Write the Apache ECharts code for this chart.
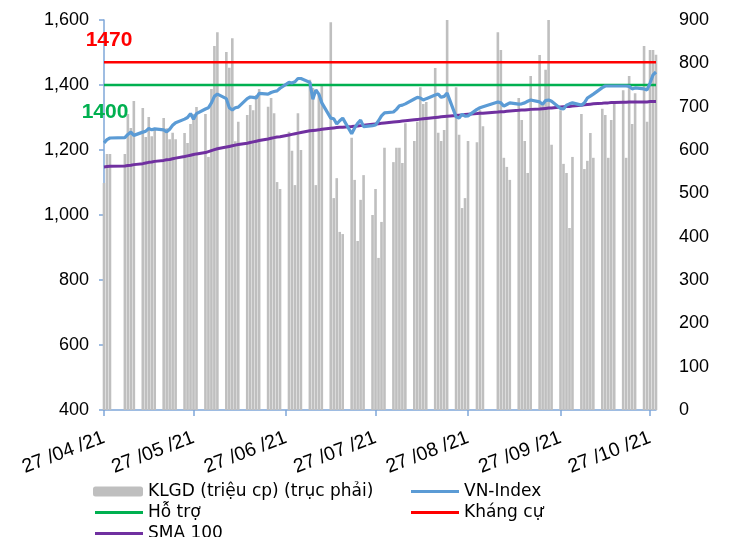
<!DOCTYPE html>
<html>
<head>
<meta charset="UTF-8">
<title>VN-Index</title>
<script src="https://cdn.jsdelivr.net/npm/echarts@6/dist/echarts.min.js"></script>
<style>
  html, body { margin: 0; padding: 0; background: #fff; }
  #chart { width: 735px; height: 537px; }
</style>
</head>
<body>
<div id="chart"></div>
<script>
// ngày giao dịch (dd/mm, năm 2021)
var tradeDays = [
  '27/04','28/04','29/04',
  '04/05','05/05','06/05','07/05','10/05','11/05','12/05','13/05','14/05',
  '17/05','18/05','19/05','20/05','21/05','24/05','25/05','26/05','27/05','28/05','31/05',
  '01/06','02/06','03/06','04/06','07/06','08/06','09/06','10/06','11/06',
  '14/06','15/06','16/06','17/06','18/06','21/06','22/06','23/06','24/06','25/06',
  '28/06','29/06','30/06','01/07','02/07','05/07','06/07','07/07','08/07','09/07',
  '12/07','13/07','14/07','15/07','16/07','19/07','20/07','21/07','22/07','23/07',
  '26/07','27/07','28/07','29/07','30/07','02/08','03/08','04/08','05/08','06/08',
  '09/08','10/08','11/08','12/08','13/08','16/08','17/08','18/08','19/08','20/08',
  '23/08','24/08','25/08','26/08','27/08','30/08','31/08','01/09',
  '06/09','07/09','08/09','09/09','10/09','13/09','14/09','15/09','16/09','17/09',
  '20/09','21/09','22/09','23/09','24/09','27/09','28/09','29/09','30/09','01/10',
  '04/10','05/10','06/10','07/10','08/10','11/10','12/10','13/10','14/10','15/10',
  '18/10','19/10','20/10','21/10','22/10','25/10','26/10','27/10','28/10','29/10'
];
// KLGD (triệu cp)
var volume = [
  524,591,591,
  591,683,651,713,697,630,676,632,646,
  674,650,625,640,625,639,616,660,683,699,683,
  584,741,840,872,826,790,858,620,665,
  681,704,692,727,741,700,720,685,526,510,
  642,598,519,685,600,762,743,519,727,750,
  895,489,535,411,406,628,531,390,485,542,
  450,510,351,434,605,572,605,605,570,662,
  621,665,745,706,711,789,640,621,646,900,
  745,635,466,489,621,618,692,655,
  872,831,582,561,531,720,669,621,547,771,
  819,711,785,900,612,692,568,547,420,584,
  683,556,575,639,582,695,681,582,669,706,
  738,582,771,660,731,840,665,831,831,820
];
var vnIndex = [
  1222,1232,1237,
  1238,1248,1255,1245,1255,1258,1266,1262,1265,
  1262,1256,1264,1276,1284,1295,1300,1312,1295,1312,1326,
  1330,1345,1365,1372,1358,1330,1323,1330,1332,
  1358,1363,1362,1360,1374,1372,1377,1380,1382,1390,
  1408,1406,1410,1420,1420,1408,1356,1385,1372,1345,
  1298,1296,1280,1290,1298,1250,1268,1282,1292,1272,
  1275,1277,1290,1305,1314,1317,1325,1336,1338,1342,
  1357,1362,1360,1354,1358,1369,1372,1362,1365,1375,
  1302,1298,1310,1304,1305,1325,1330,1333,
  1348,1345,1335,1340,1345,1341,1342,1345,1350,1354,
  1348,1341,1352,1354,1350,1328,1326,1338,1342,1345,
  1338,1345,1360,1366,1372,1392,1397,1397,1397,1397,
  1397,1397,1396,1388,1391,1388,1385,1406,1431,1440
];
var sma100 = [
  1148,1149,1150,
  1151,1152,1153,1155,1158,1160,1162,1163,1165,
  1168,1170,1171,1173,1175,1180,1182,1184,1186,1188,1192,
  1195,1198,1201,1204,1209,1211,1213,1215,1217,
  1221,1223,1225,1227,1229,1234,1236,1238,1240,1241,
  1246,1248,1250,1252,1254,1259,1260,1261,1262,1264,
  1267,1268,1269,1270,1270,1272,1273,1274,1275,1276,
  1279,1280,1281,1282,1283,1286,1287,1288,1289,1290,
  1293,1294,1295,1296,1297,1300,1301,1302,1303,1304,
  1306,1307,1308,1309,1310,1312,1313,1313,
  1317,1318,1318,1319,1320,1322,1323,1323,1324,1325,
  1326,1327,1328,1329,1329,1332,1333,1334,1334,1335,
  1338,1339,1340,1341,1342,1344,1345,1345,1346,1346,
  1347,1347,1348,1348,1348,1348,1348,1349,1349,1349
];
var supportLevel = 1400;     // Hỗ trợ
var resistanceLevel = 1470;  // Kháng cự
var tickDays = ['27/04','27/05','27/06','27/07','27/08','27/09','27/10'];

function toTime(s) {
  var p = s.split('/');
  return new Date(2021, parseInt(p[1], 10) - 1, parseInt(p[0], 10)).getTime();
}

var times = tradeDays.map(toTime);
var tickTimes = tickDays.map(toTime);
var firstT = times[0], lastT = times[times.length - 1];

function pair(arr) {
  var out = [];
  for (var i = 0; i < times.length; i++) out.push([times[i], arr[i]]);
  return out;
}

var FONT = '"Liberation Sans", Arial, sans-serif';
var LEG_FONT = '"DejaVu Sans", sans-serif';
var axisBlue = '#7FA7D9';

var chart = echarts.init(document.getElementById('chart'));
var legendText = { fontFamily: LEG_FONT, fontSize: 17, color: '#000' };

function lineLegend(name, left, top) {
  return {
    data: [{ name: name, icon: 'rect' }],
    left: left, top: top, itemWidth: 48, itemHeight: 3,
    textStyle: legendText
  };
}

chart.setOption({
  animation: false,
  grid: { left: 104, right: 79, top: 20, bottom: 127 },
  legend: [
    { data: ['KLGD (triệu cp) (trục phải)'], left: 88, top: 478, itemWidth: 50, itemHeight: 10, textStyle: legendText },
    lineLegend('Hỗ trợ', 90, 499),
    lineLegend('SMA 100', 90, 520),
    lineLegend('VN-Index', 406, 478),
    lineLegend('Kháng cự', 406, 499)
  ],
  xAxis: {
    type: 'value',
    min: firstT,
    max: lastT,
    axisLine: { lineStyle: { color: axisBlue, width: 1.5 } },
    axisTick: { show: true, customValues: tickTimes, length: 6, lineStyle: { color: axisBlue, width: 1.5 } },
    axisLabel: {
      customValues: tickTimes,
      rotate: 21,
      margin: 27,
      hideOverlap: false,
      fontFamily: FONT,
      fontSize: 19.5,
      color: '#000',
      formatter: function (v) {
        var d = new Date(v);
        var dd = ('0' + d.getDate()).slice(-2);
        var mm = ('0' + (d.getMonth() + 1)).slice(-2);
        return dd + ' /' + mm + ' /21';
      }
    },
    splitLine: { show: false }
  },
  yAxis: [
    {
      type: 'value', min: 400, max: 1600, interval: 200,
      axisLine: { show: true, lineStyle: { color: axisBlue, width: 1.5 } },
      axisTick: { show: true, length: 5, lineStyle: { color: axisBlue, width: 1.5 } },
      axisLabel: {
        margin: 15, fontFamily: FONT, fontSize: 18, color: '#000',
        formatter: function (v) { return v.toLocaleString('en-US'); }
      },
      splitLine: { show: false }
    },
    {
      type: 'value', min: 0, max: 900, interval: 100,
      axisLine: { show: false },
      axisTick: { show: false },
      axisLabel: { margin: 23, fontFamily: FONT, fontSize: 18, color: '#000' },
      splitLine: { show: false }
    }
  ],
  series: [
    {
      name: 'KLGD (triệu cp) (trục phải)',
      type: 'bar',
      yAxisIndex: 1,
      barWidth: 2.6,
      itemStyle: { color: '#BFBFBF' },
      data: pair(volume)
    },
    {
      name: 'VN-Index',
      type: 'line',
      symbol: 'none',
      lineStyle: { color: '#5B9BD5', width: 3.2 },
      itemStyle: { color: '#5B9BD5' },
      data: pair(vnIndex),
      z: 4
    },
    {
      name: 'Hỗ trợ',
      type: 'line',
      symbol: 'none',
      lineStyle: { color: '#00B050', width: 2.5 },
      itemStyle: { color: '#00B050' },
      data: [[firstT, supportLevel], [lastT, supportLevel]],
      markPoint: {
        symbol: 'circle', symbolSize: 0,
        data: [{ coord: [firstT, supportLevel] }],
        label: {
          show: true, position: 'bottom', distance: 17, offset: [1, 0],
          formatter: String(supportLevel),
          fontFamily: FONT, fontSize: 21, fontWeight: 'bold', color: '#00B050'
        }
      },
      z: 3
    },
    {
      name: 'Kháng cự',
      type: 'line',
      symbol: 'none',
      lineStyle: { color: '#FF0000', width: 2.5 },
      itemStyle: { color: '#FF0000' },
      data: [[firstT, resistanceLevel], [lastT, resistanceLevel]],
      markPoint: {
        symbol: 'circle', symbolSize: 0,
        data: [{ coord: [firstT, resistanceLevel] }],
        label: {
          show: true, position: 'top', distance: 12, offset: [5, 0],
          formatter: String(resistanceLevel),
          fontFamily: FONT, fontSize: 21, fontWeight: 'bold', color: '#FF0000'
        }
      },
      z: 3
    },
    {
      name: 'SMA 100',
      type: 'line',
      symbol: 'none',
      lineStyle: { color: '#7030A0', width: 3 },
      itemStyle: { color: '#7030A0' },
      data: pair(sma100),
      z: 3
    }
  ]
});
</script>
</body>
</html>
